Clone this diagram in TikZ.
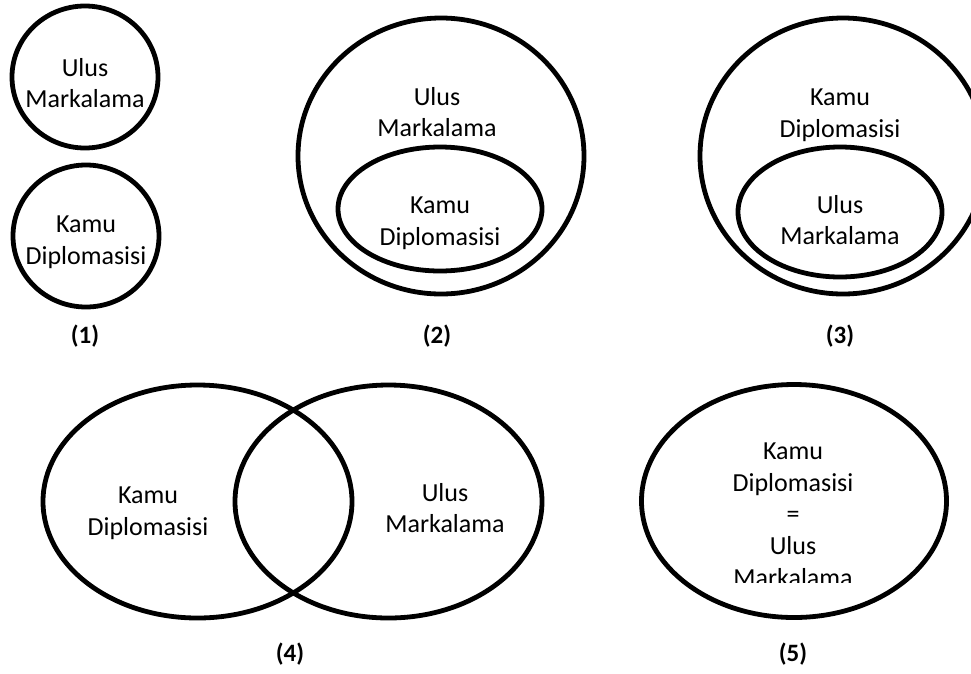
\documentclass[tikz,border=0pt]{standalone}
\usepackage{fontspec}
\setmainfont{Carlito}
\usepackage{tikz}
\usetikzlibrary{shapes,positioning}

\begin{document}
\begin{tikzpicture}[x=1pt,y=-1pt]
            \tikzstyle{ring} = [ellipse, draw, line width=4.8pt, inner sep=0pt]
            \tikzstyle{txt} = [align=center, inner sep=0pt, font=\fontsize{26}{31.7}\selectfont]
            \tikzstyle{tag} = [inner sep=0pt, font=\fontsize{25}{30}\selectfont\bfseries]

            \clip (0,0) rectangle (971,673);

            % (1) two separate sets
            \node [ring, minimum width=146pt, minimum height=142pt] (um1) at (85,77) {};
            \node [ring, minimum width=146pt, minimum height=142pt] (kd1) at (86,236) {};
            \node [txt] (um1t) at (85,83) {Ulus\\Markalama};
            \node [txt] (kd1t) at (86,242) {Kamu\\Diplomasisi};
            \node [tag] (c1) at (85,336) {(1)};

            % (2) public diplomacy inside nation branding
            \node [ring, minimum width=286pt, minimum height=276pt] (um2) at (441,156) {};
            \node [ring, minimum width=204pt, minimum height=124pt] (kd2) at (440,209) {};
            \node [txt] (um2t) at (437,112) {Ulus\\Markalama};
            \node [txt] (kd2t) at (440,223) {Kamu\\Diplomasisi};
            \node [tag] (c2) at (437,336) {(2)};

            % (3) nation branding inside public diplomacy
            \node [ring, minimum width=286pt, minimum height=276pt] (kd3) at (843,156) {};
            \node [ring, minimum width=204pt, minimum height=130pt] (um3) at (840,212) {};
            \node [txt] (kd3t) at (840,115) {Kamu\\Diplomasisi};
            \node [txt] (um3t) at (840,220) {Ulus\\Markalama};
            \node [tag] (c3) at (840,336) {(3)};

            % (4) overlap
            \node [ring, minimum width=309pt, minimum height=233pt] (kd4) at (197.5,501.5) {};
            \node [ring, minimum width=307pt, minimum height=233pt] (um4) at (388.5,501.5) {};
            \node [txt] (kd4t) at (148,513) {Kamu\\Diplomasisi};
            \node [txt] (um4t) at (445,508) {Ulus\\Markalama};
            \node [tag] (c4) at (290,654) {(4)};

            % (5) equal sets
            \node [ring, minimum width=305pt, minimum height=233pt] (eq5) at (794,501) {};
            \begin{scope}
                \clip (650,400) rectangle (940,582);
                \node [txt] (eq5t) at (793,514.5) {Kamu\\Diplomasisi\\=\\Ulus\\Markalama};
            \end{scope}
            \node [tag] (c5) at (793,654) {(5)};
        \end{tikzpicture}
\end{document}
